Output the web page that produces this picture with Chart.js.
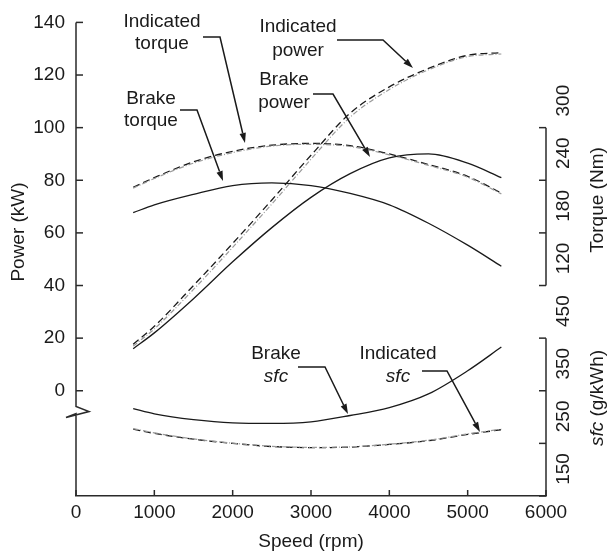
<!DOCTYPE html>
<html><head><meta charset="utf-8">
<script src="https://cdn.jsdelivr.net/npm/chart.js@4"></script>
<style>html,body{margin:0;padding:0;background:#fff;}#wrap{width:609px;height:553px;position:relative;}</style>
</head><body><div id="wrap"><canvas id="c" width="609" height="553"></canvas></div>
<script>
// ---- data ----
const speed = [730, 1000, 1500, 2000, 2500, 3000, 3500, 4000, 4500, 5000, 5430];
const brakePower = [16, 22, 35, 49, 62, 73.5, 82.5, 88.5, 90, 86.5, 81];
const indicatedPower = [17.7, 24.5, 40, 56, 72.5, 89.5, 105.5, 115.5, 122.5, 127.5, 128.5];
const indicatedPowerB = [17, 23.5, 38.5, 54.5, 71, 88, 104, 114.5, 122, 127, 128];
const brakeTorque = [203, 212, 224, 234, 237, 234, 225, 212, 191, 166, 142];
const indicatedTorque = [232, 243, 261, 273, 280, 282, 279.5, 270, 258, 244.5, 225.5];
const indicatedTorqueB = [231, 242, 259.5, 271.5, 279, 281, 278.5, 269, 257, 243.5, 224.5];
const brakeSfc = [316, 306, 295, 289, 288, 291, 303, 318, 344, 388, 433];
const indicatedSfc = [277, 269, 258, 250, 244, 242, 243, 248, 255, 267, 276];
const indicatedSfcB = [278, 270, 258.5, 250.5, 244.5, 242.5, 243.5, 248.5, 256, 268, 277];
const powerTicks = [0, 20, 40, 60, 80, 100, 120, 140];
const speedTicks = [0, 1000, 2000, 3000, 4000, 5000, 6000];
const torqueTicks = [120, 180, 240, 300];
const sfcTicks = [150, 250, 350, 450];

const FONT = '"Liberation Sans", Arial, Helvetica, sans-serif';
const INK = '#1a1a1a';
const FS = 19;

function series(label, vals, axis, extra) {
  return Object.assign({
    label, yAxisID: axis,
    data: speed.map((s, i) => ({x: s, y: vals[i]})),
    borderColor: INK, borderWidth: 1.3, pointRadius: 0, fill: false,
    tension: 0.4, cubicInterpolationMode: 'monotone'
  }, extra || {});
}
const dashA = {borderDash: [7, 4]};
const dashB = {borderDash: [5, 2, 1, 2], borderColor: '#9a9a9a', borderWidth: 1.2};

const annotations = [
  {t: ['Indicated', 'torque'], cx: 162, cy: [22, 44], p: [[203, 37], [220, 37], [245, 143]]},
  {t: ['Brake', 'torque'], cx: 151, cy: [99, 121], p: [[180, 110], [197, 110], [223, 181]]},
  {t: ['Indicated', 'power'], cx: 298, cy: [27, 51], p: [[337, 40], [383, 40], [413, 68]]},
  {t: ['Brake', 'power'], cx: 284, cy: [80, 103], p: [[313, 94], [333, 94], [370, 157]]},
  {t: ['Brake', 'sfc'], cx: 276, cy: [354, 377], p: [[298, 367], [325, 367], [348, 414]], it: true},
  {t: ['Indicated', 'sfc'], cx: 398, cy: [354, 377], p: [[422, 371], [447, 371], [480, 432]], it: true}
];

const decor = {
  id: 'decor',
  afterDraw(chart) {
    const ctx = chart.ctx, ca = chart.chartArea;
    const X = chart.scales.x, Y = chart.scales.y, T = chart.scales.yT, S = chart.scales.yS;
    const F = FS + 'px ' + FONT, FI = 'italic ' + FS + 'px ' + FONT;
    ctx.save();
    ctx.strokeStyle = '#2a2a2a'; ctx.lineWidth = 1.5; ctx.lineCap = 'butt';
    // left axis with break
    const xl = ca.left, yb = Y.getPixelForValue(-6);
    ctx.beginPath();
    ctx.moveTo(xl, Y.getPixelForValue(140));
    ctx.lineTo(xl, yb);
    ctx.lineTo(xl + 13, yb + 5);
    ctx.lineTo(xl - 10, yb + 11);
    ctx.lineTo(xl, yb + 7);
    ctx.lineTo(xl, ca.bottom);
    ctx.stroke();
    // left ticks (inward)
    powerTicks.forEach(v => {
      const y = Y.getPixelForValue(v);
      ctx.beginPath(); ctx.moveTo(xl, y); ctx.lineTo(xl + 7, y); ctx.stroke();
    });
    // x ticks (inward)
    speedTicks.forEach(v => {
      const x = X.getPixelForValue(v);
      ctx.beginPath(); ctx.moveTo(x, ca.bottom); ctx.lineTo(x, ca.bottom - 6); ctx.stroke();
    });
    // right axes
    const xr = ca.right;
    function rightAxis(scale, ticks) {
      const top = scale.getPixelForValue(ticks[ticks.length - 1]);
      const bot = scale.getPixelForValue(ticks[0]);
      ctx.beginPath(); ctx.moveTo(xr, top); ctx.lineTo(xr, bot); ctx.stroke();
      ticks.forEach(v => {
        const y = scale.getPixelForValue(v);
        ctx.beginPath(); ctx.moveTo(xr, y); ctx.lineTo(xr - 7, y); ctx.stroke();
        ctx.save();
        ctx.translate(xr + 18, y - 27);
        ctx.rotate(-Math.PI / 2);
        ctx.fillStyle = INK; ctx.font = F;
        ctx.textAlign = 'center'; ctx.textBaseline = 'middle';
        ctx.fillText(String(v), 0, 0);
        ctx.restore();
      });
    }
    rightAxis(T, torqueTicks);
    rightAxis(S, sfcTicks);

    // axis titles
    ctx.fillStyle = INK; ctx.font = F; ctx.textBaseline = 'middle'; ctx.textAlign = 'center';
    ctx.fillText('Speed (rpm)', X.getPixelForValue(3000), 542);
    ctx.save(); ctx.translate(19, 232); ctx.rotate(-Math.PI / 2); ctx.fillText('Power (kW)', 0, 0); ctx.restore();
    ctx.save(); ctx.translate(xr + 52, 200); ctx.rotate(-Math.PI / 2); ctx.fillText('Torque (Nm)', 0, 0); ctx.restore();
    ctx.save(); ctx.translate(xr + 52, 398); ctx.rotate(-Math.PI / 2);
    const a = 'sfc', b = ' (g/kWh)';
    ctx.font = FI; const wa = ctx.measureText(a).width;
    ctx.font = F; const wb = ctx.measureText(b).width;
    const start = -(wa + wb) / 2;
    ctx.textAlign = 'left';
    ctx.font = FI; ctx.fillText(a, start, 0);
    ctx.font = F; ctx.fillText(b, start + wa, 0);
    ctx.restore();

    // annotations
    annotations.forEach(an => {
      ctx.fillStyle = INK; ctx.textAlign = 'center'; ctx.textBaseline = 'middle';
      ctx.font = F; ctx.fillText(an.t[0], an.cx, an.cy[0]);
      ctx.font = an.it ? FI : F; ctx.fillText(an.t[1], an.cx, an.cy[1]);
      ctx.strokeStyle = INK; ctx.lineWidth = 1.5;
      const p = an.p, n = p.length;
      const tip = p[n - 1], prev = p[n - 2];
      const ang = Math.atan2(tip[1] - prev[1], tip[0] - prev[0]);
      const L = 10, W = 3.2;
      const bx = tip[0] - L * Math.cos(ang), by = tip[1] - L * Math.sin(ang);
      ctx.beginPath(); ctx.moveTo(p[0][0], p[0][1]);
      for (let i = 1; i < n - 1; i++) ctx.lineTo(p[i][0], p[i][1]);
      ctx.lineTo(bx, by); ctx.stroke();
      ctx.beginPath();
      ctx.moveTo(tip[0], tip[1]);
      ctx.lineTo(bx + W * Math.sin(ang), by - W * Math.cos(ang));
      ctx.lineTo(bx - W * Math.sin(ang), by + W * Math.cos(ang));
      ctx.closePath(); ctx.fill();
    });
    ctx.restore();
  }
};

new Chart(document.getElementById('c'), {
  type: 'line',
  data: {
    datasets: [
      series('Brake power', brakePower, 'y'),
      series('Indicated power (b)', indicatedPowerB, 'y', dashB),
      series('Indicated power', indicatedPower, 'y', dashA),
      series('Brake torque', brakeTorque, 'yT'),
      series('Indicated torque (b)', indicatedTorqueB, 'yT', dashB),
      series('Indicated torque', indicatedTorque, 'yT', dashA),
      series('Brake sfc', brakeSfc, 'yS'),
      series('Indicated sfc (b)', indicatedSfcB, 'yS', dashB),
      series('Indicated sfc', indicatedSfc, 'yS', dashA)
    ]
  },
  options: {
    responsive: false, animation: false,
    layout: {padding: {top: 15, right: 63, left: 0, bottom: 0}},
    plugins: {legend: {display: false}, tooltip: {enabled: false}},
    scales: {
      x: {
        type: 'linear', min: 0, max: 6000,
        afterBuildTicks: s => { s.ticks = speedTicks.map(v => ({value: v})); },
        ticks: {callback: v => String(v), font: {family: FONT, size: FS}, color: INK, padding: 5, maxRotation: 0, autoSkip: false},
        grid: {display: false, drawTicks: false},
        border: {display: true, color: '#2a2a2a', width: 1.5},
        afterFit: s => { s.height = 57; }
      },
      y: {
        type: 'linear', position: 'left', min: -40, max: 140,
        afterBuildTicks: s => { s.ticks = powerTicks.map(v => ({value: v})); },
        ticks: {callback: v => String(v), font: {family: FONT, size: FS}, color: INK, padding: 11, autoSkip: false},
        grid: {display: false, drawTicks: false},
        border: {display: false},
        afterFit: s => { s.width = 76; }
      },
      yT: {type: 'linear', display: false, min: -120, max: 420},
      yS: {type: 'linear', display: false, min: 150, max: 1050}
    }
  },
  plugins: [decor]
});
</script>
</body></html>
